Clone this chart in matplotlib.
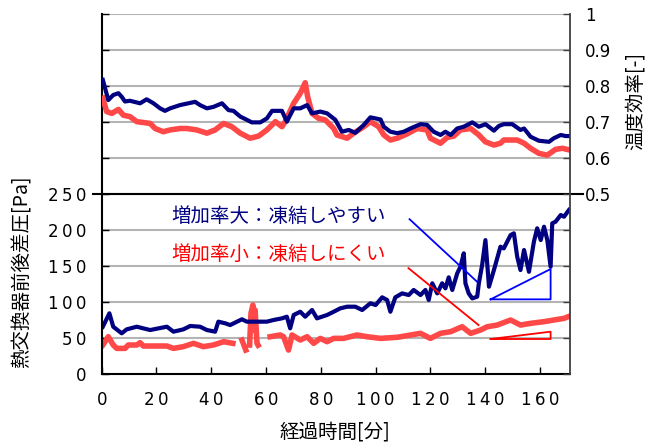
import numpy as np
import matplotlib
matplotlib.use("Agg")
import matplotlib.pyplot as plt

nan = np.nan

# temperature efficiency (right axis)
t_eff_blue = [0.4, 2.4, 4.2, 6.1, 7.3, 8.5, 10.3, 14.0, 16.4, 18.9, 21.3, 23.1, 25.0, 28.6, 34.1, 35.9,
              38.4, 40.8, 43.9, 46.3, 48.1, 50.6, 53.0, 54.8, 57.9, 60.3, 62.2, 65.8, 67.6, 70.1, 72.5,
              75.0, 76.8, 79.8, 82.3, 85.3, 87.7, 90.2, 92.6, 95.7, 98.1, 101.8, 103.0, 105.4, 107.9,
              110.3, 112.7, 116.4, 118.8, 121.2, 123.7, 125.5, 127.4, 129.8, 132.2, 135.3, 137.7, 140.1,
              143.2, 145.0, 146.8, 149.9, 152.9, 154.2, 156.6, 159.6, 163.3, 165.1, 167.6, 169.4, 171.0]
eff_blue = [0.817, 0.761, 0.775, 0.780, 0.770, 0.757, 0.759, 0.752, 0.763, 0.752, 0.738, 0.731, 0.738,
            0.747, 0.756, 0.747, 0.738, 0.742, 0.752, 0.733, 0.731, 0.715, 0.706, 0.699, 0.699, 0.710,
            0.731, 0.731, 0.701, 0.738, 0.738, 0.747, 0.724, 0.729, 0.724, 0.706, 0.673, 0.678, 0.670,
            0.692, 0.713, 0.707, 0.687, 0.673, 0.669, 0.673, 0.682, 0.694, 0.692, 0.673, 0.664, 0.673,
            0.664, 0.682, 0.687, 0.699, 0.687, 0.694, 0.676, 0.689, 0.694, 0.694, 0.678, 0.682, 0.659,
            0.648, 0.645, 0.655, 0.664, 0.661, 0.661]

t_eff_red = [0.4, 1.8, 3.7, 6.1, 7.9, 10.3, 12.8, 15.8, 17.7, 19.5, 22.5, 25.0, 28.6, 31.1, 34.7, 38.4,
             41.4, 44.5, 47.5, 50.6, 54.2, 57.3, 60.3, 63.4, 65.8, 67.0, 70.1, 72.5, 74.3, 75.2, 76.8,
             79.2, 81.6, 84.7, 85.9, 89.6, 92.0, 95.7, 98.1, 101.1, 103.0, 105.4, 107.9, 111.5, 115.2,
             118.8, 120.0, 123.7, 126.1, 128.6, 131.0, 134.7, 137.7, 140.1, 143.2, 145.6, 146.8, 151.7,
             154.2, 156.6, 159.6, 162.7, 165.7, 168.2, 171.0]
eff_red = [0.766, 0.729, 0.724, 0.735, 0.719, 0.715, 0.701, 0.698, 0.696, 0.682, 0.673, 0.678, 0.682,
           0.682, 0.678, 0.669, 0.678, 0.696, 0.687, 0.669, 0.655, 0.661, 0.678, 0.701, 0.687, 0.701,
           0.752, 0.780, 0.809, 0.770, 0.724, 0.710, 0.706, 0.682, 0.664, 0.655, 0.669, 0.687, 0.701,
           0.687, 0.664, 0.650, 0.655, 0.667, 0.682, 0.678, 0.655, 0.641, 0.657, 0.661, 0.678, 0.682,
           0.664, 0.645, 0.636, 0.641, 0.650, 0.650, 0.641, 0.627, 0.613, 0.608, 0.624, 0.627, 0.622]

# pressure difference (left axis)
t_dp_blue = [0.4, 2.8, 4.2, 7.3, 9.1, 12.8, 15.2, 17.7, 20.7, 23.8, 26.2, 29.8, 32.3, 35.9, 38.4, 41.4,
             42.6, 45.1, 46.9, 49.4, 51.2, 53.0, 56.7, 60.3, 62.7, 65.8, 67.6, 68.8, 70.1, 72.5, 74.3,
             76.8, 78.6, 82.3, 84.7, 87.1, 89.6, 92.6, 95.1, 98.1, 100.0, 102.4, 104.2, 105.4, 107.2,
             109.7, 112.1, 113.9, 116.4, 118.2, 119.4, 120.7, 122.5, 124.3, 125.5, 126.7, 128.0, 129.8,
             131.0, 132.2, 132.8, 134.0, 135.3, 137.1, 137.7, 138.9, 140.1, 141.4, 143.2, 145.6, 146.8,
             149.3, 150.5, 151.7, 152.9, 154.2, 156.0, 157.8, 159.0, 160.3, 161.5, 162.7, 163.9, 164.5,
             165.7, 167.6, 168.8, 170.6]
dp_blue = [65.7, 84.3, 65.7, 56.5, 62.0, 65.7, 63.4, 61.1, 63.4, 65.7, 58.8, 62.0, 66.7, 65.7, 61.1, 58.8,
           72.7, 70.4, 68.0, 72.7, 76.0, 72.7, 72.7, 72.7, 75.0, 77.3, 79.6, 63.4, 82.0, 86.5, 79.6, 88.9,
           77.3, 82.0, 86.5, 91.2, 93.5, 93.5, 88.9, 98.2, 95.8, 106.5, 102.8, 86.5, 106.5, 112.0, 109.7,
           116.7, 109.7, 116.7, 102.8, 126.0, 112.0, 126.0, 119.0, 134.3, 116.7, 139.8, 149.0, 167.6,
           126.0, 112.0, 105.0, 107.4, 126.0, 151.4, 186.0, 121.3, 144.4, 176.8, 174.5, 193.0, 195.4,
           163.0, 144.4, 172.2, 142.0, 183.7, 202.4, 186.0, 204.6, 186.0, 149.0, 209.3, 211.5, 220.8,
           218.5, 227.8]

t_dp_red = [0.4, 2.4, 4.2, 5.5, 8.5, 9.7, 12.8, 14.0, 15.2, 23.8, 26.2, 29.8, 33.5, 37.1, 40.8, 44.5,
            47.9, 49.5, 51.2, 52.6, 53.3, 54.0, 54.5, 55.2, 55.7, 56.0, 56.7, 57.1, 59.0, 61.5, 65.2,
            66.4, 68.2, 69.5, 72.5, 75.0, 77.4, 79.8, 82.3, 84.7, 88.3, 93.2, 96.9, 101.8, 107.9, 116.4,
            120.0, 123.7, 127.4, 131.6, 134.7, 138.3, 140.8, 144.4, 149.3, 152.9, 156.6, 161.5, 165.1,
            168.8, 171.0]
dp_red = [40.3, 51.8, 40.3, 35.6, 35.6, 40.3, 40.3, 43.5, 38.9, 38.9, 35.6, 38.0, 42.6, 38.0, 40.3, 44.9,
          42.6, nan, 47.2, 33.3, nan, 40.3, 84.3, 95.8, 61.1, 88.9, 42.6, 40.0, nan, 51.8, 54.2,
          51.8, 33.3, 54.2, 47.2, 51.8, 42.6, 49.5, 44.9, 49.5, 49.5, 54.2, 51.8, 49.5, 51.0, 56.5,
          49.5, 56.5, 58.8, 65.7, 56.5, 61.1, 65.7, 68.0, 75.0, 68.0, 70.4, 72.7, 75.0, 77.3, 80.6]

x_ticks = [0, 20, 40, 60, 80, 100, 120, 140, 160]
left_ticks = [0, 50, 100, 150, 200, 250, 300, 350, 400, 450, 500]
right_ticks = [0, 0.1, 0.2, 0.3, 0.4, 0.5, 0.6, 0.7, 0.8, 0.9, 1.0]
right_labels = ['', '', '', '', '', '0.5', '0.6', '0.7', '0.8', '0.9', '1']

NAVY = '#000080'
RED = '#ff4848'
JP = ['Noto Sans CJK JP', 'DejaVu Sans']
TS = '\u2009'


def spaced(s):
    return TS.join(s)


fig = plt.figure(figsize=(6.55, 4.46), dpi=100)
ax = fig.add_axes([0.1553, 0.1614, 0.7150, 0.8072])
ax2 = ax.twinx()

ax.set_xlim(0, 171)
ax.set_ylim(0, 500)
ax2.set_ylim(0, 1)

for v in left_ticks[1:]:
    ax.axhline(v, color='#b4b4b4', lw=1.5, zorder=0)
# the black divider at 250 / 0.5, sticking out on both sides
ax.plot([-0.0186, 1.028], [0.5, 0.5], transform=ax.transAxes, color='black', lw=1.5,
        clip_on=False, zorder=3)

ax.plot(t_dp_red, dp_red, color=RED, lw=4, zorder=2)
ax.plot(t_dp_blue, dp_blue, color=NAVY, lw=3, zorder=2)
ax2.plot(t_eff_red, eff_red, color=RED, lw=4)
ax2.plot(t_eff_blue, eff_blue, color=NAVY, lw=3)

# annotation lines and slope triangles
ax.plot([112.4, 137.1], [215, 128], color='#0000ff', lw=1.3, zorder=4)
ax.plot([112.0, 137.6], [147, 68], color='#ff0000', lw=1.3, zorder=4)
ax.plot([142, 163.9, 163.9, 142], [103.7, 103.7, 145.8, 103.7], color='#0000ff', lw=1.3, zorder=4)
ax.plot([142, 163.9, 163.9, 142], [48.6, 48.6, 58.8, 48.6], color='#ff0000', lw=1.3, zorder=4)
ax.text(25.5, 219, '増加率大：凍結しやすい', color=NAVY, fontsize=14, family=JP,
        va='center', ha='left', zorder=5)
ax.text(25.5, 166, '増加率小：凍結しにくい', color='#ff0000', fontsize=14, family=JP,
        va='center', ha='left', zorder=5)

ax.set_xticks(x_ticks)
ax.set_xticklabels([spaced(str(v)) for v in x_ticks], family='DejaVu Sans', fontsize=12)
ax.set_yticks(left_ticks)
ax.set_yticklabels([spaced(str(v)) if v <= 250 else '' for v in left_ticks],
                   family='DejaVu Sans', fontsize=12)
ax2.set_yticks(right_ticks)
ax2.set_yticklabels(right_labels, family='DejaVu Sans', fontsize=12)

ax.tick_params(axis='x', direction='in', length=5, width=1, pad=12)
ax.tick_params(axis='y', direction='in', length=5, width=1, pad=11)
ax2.tick_params(axis='y', direction='in', length=5, width=1, pad=11, color='#404040')

for s in ['top', 'right']:
    ax.spines[s].set_visible(False)
for s in ['top', 'left', 'bottom']:
    ax2.spines[s].set_visible(False)
ax.spines['left'].set_linewidth(1.5)
ax.spines['bottom'].set_linewidth(1.5)
ax2.spines['right'].set_color('#404040')
ax2.spines['right'].set_linewidth(1.3)

fig.text(22 / 655, 1 - 272 / 446, '熱交換器前後差圧[Pa]', rotation=90, ha='center', va='center',
         fontsize=14, family=JP)
fig.text(635 / 655, 1 - 101 / 446, '温度効率[-]', rotation=90, ha='center', va='center',
         fontsize=14, family=JP)
fig.text(335 / 655, 1 - 432 / 446, '経過時間[分]', ha='center', va='center', fontsize=14, family=JP)

fig.savefig('out.png', dpi=100)
